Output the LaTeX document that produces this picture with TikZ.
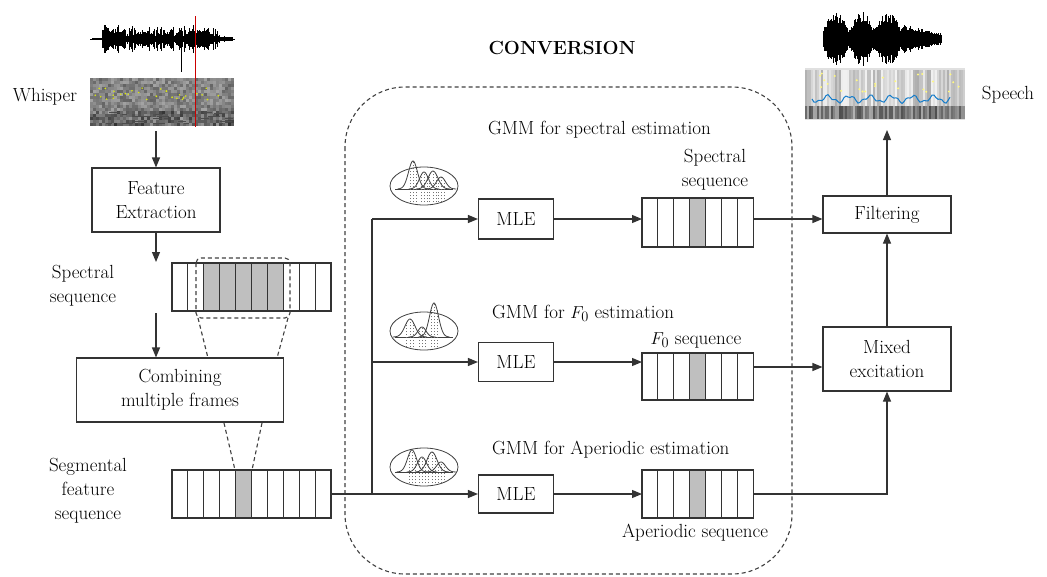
\documentclass[tikz,border=0pt]{standalone}
\usetikzlibrary{arrows.meta,calc}

\newcommand\lbl{\fontsize{19}{24}\selectfont}
\def\cw{15.9}

\tikzset{
  box/.style={draw=black!80, line width=1.1pt, fill=white, align=center, inner sep=0pt, font=\lbl},
  lbl/.style={align=center, inner sep=0pt, font=\lbl},
  arr/.style={-{Triangle[length=10pt,width=8pt]}, line width=1.1pt, draw=black!80},
  link/.style={line width=1.1pt, draw=black!80},
  guide/.style={dash pattern=on 4pt off 3pt, line width=1.1pt, draw=black!75},
  strip/.style={draw=black!80, line width=1.1pt, fill=white, inner sep=0pt, outer sep=0pt},
  cellline/.style={line width=1.1pt, draw=black!80},
  icon/.style={line width=0.8pt, draw=black!75},
  hatch/.style={draw=black!55, line width=0.4pt, dash pattern=on 1.5pt off 1.5pt},
}

% frame sequence: name, left x, top y, number of cells, height, shaded cells
\newcommand\framestrip[6]{%
  \node[strip, anchor=north west, minimum width=#4*\cw, minimum height=#5] (#1) at (#2,#3) {};
  \foreach \k in {#6} \fill[gray!50] ($(#1.north west)+(\k*\cw,0)$) rectangle +(\cw,#5);
  \pgfmathtruncatemacro\nlast{#4-1}
  \foreach \k in {1,...,\nlast} \draw[cellline] ($(#1.north west)+(\k*\cw,0)$) -- +(0,#5);
  \draw[cellline] (#1.north west) rectangle (#1.south east);
}

% mixture-of-Gaussians emblem: name, x, y, baseline, list of mean/height/spread
\newcommand\gmmicon[5]{%
  \begin{scope}[shift={(#2,#3)}]
    \coordinate (#1) at (0,0);
    \draw[icon, fill=white] (0,0) ellipse [x radius=34, y radius=19];
    \draw[icon] (-29,#4) -- (29,#4);
    \foreach \m/\h/\s in {#5}{
      \foreach \d in {-1,0,1}{
        \draw[hatch] ({\m+\d*0.7*\s},16) -- ({\m+\d*0.7*\s},{#4-\h*exp(-(0.49*\d*\d)/2)});
      }
      \draw[icon, samples=40, domain={\m-3.4*\s}:{\m+3.4*\s}]
        plot (\x, {#4 - \h*exp(-((\x-\m)^2)/(2*\s*\s))});
    }
  \end{scope}
}

\begin{document}
\begin{tikzpicture}[x=1pt, y=-1pt]
\useasboundingbox (0,0) rectangle (1047,576);

% ---------- whisper input: waveform and spectrogram ----------
\pgfmathsetseed{3}
\draw[black, line width=0.6pt] (90,39) -- (235,39);
\foreach \i in {0,...,140}{
  \pgfmathsetmacro\env{(\i<10)*1.5 + (\i>=10)*(\i<128)*(5+10*rnd) + (\i>=128)*3}
  \pgfmathsetmacro\amp{\env*(0.5+0.5*rnd)}
  \fill[black] (92+\i,{39-\amp}) rectangle (93.3+\i,{39+\amp});
}
\draw[black, line width=1pt] (181,28) -- (181,72);
\foreach \c in {0,...,47}{
  \foreach \r in {0,...,15}{
    \pgfmathtruncatemacro\g{36+26*rnd+(\r>10)*22*rnd}
    \fill[black!\g] (90+3*\c,78+3*\r) rectangle +(3.05,3.05);
  }
}
\foreach \i in {1,...,22}{
  \pgfmathsetmacro\xx{95+130*rnd}
  \pgfmathsetmacro\yy{112+12*rnd}
  \pgfmathsetmacro\ll{4+8*rnd}
  \draw[black!70, line width=1pt] (\xx,\yy) -- ++(\ll,0);
}
\foreach \i in {1,...,30}{
  \pgfmathsetmacro\xx{95+135*rnd}
  \pgfmathsetmacro\yy{88+12*rnd}
  \fill[yellow!85!green] (\xx,\yy) circle (0.9);
}
\draw[red!80!black, line width=1pt] (195,16) -- (195,127);
\node[lbl] (whisper) at (45,97) {Whisper};

% ---------- speech output: waveform and spectrogram ----------
\fill[black!12] (805,68) rectangle (965,120);
\foreach \c in {0,...,79}{
  \pgfmathtruncatemacro\g{5+28*rnd}
  \fill[black!\g] (805+2*\c,70) rectangle +(2.05,36);
  \pgfmathtruncatemacro\h{30+40*rnd}
  \fill[black!\h] (805+2*\c,106) rectangle +(2.05,13);
}
\foreach \i in {1,...,25}{
  \pgfmathsetmacro\xx{810+150*rnd}
  \pgfmathsetmacro\yy{72+20*rnd}
  \fill[yellow!50!white] (\xx,\yy) circle (1.1);
}
\draw[cyan!60!blue, line width=1pt] plot[domain=0:138, samples=70] ({812+\x},{99+3*sin(\x*17)+1.5*sin(\x*41)});
\foreach \i in {0,...,118}{
  \pgfmathsetmacro\env{(\i<80)*(9+17*abs(sin(\i*6.8+10))) + (\i>=80)*(11*(1-(\i-80)/45)+3)}
  \pgfmathsetmacro\amp{\env*(0.6+0.4*rnd)}
  \fill[black] (823+\i,{38-\amp}) rectangle (824.1+\i,{40+\amp});
}
\node[lbl] (speech) at (1008,95) {Speech};

% ---------- feature extraction side ----------
\node[box, minimum width=128, minimum height=64] (fe) at (156,200) {Feature\\Extraction};
\node[box, minimum width=207, minimum height=64] (comb) at (180,390) {Combining\\multiple frames};
\framestrip{specL}{172}{263}{10}{48}{2,...,6}
\framestrip{seg}{172}{470}{10}{48}{4}
\node[lbl] (specLlbl) at (83,286) {Spectral\\sequence};
\node[lbl] (seglbl) at (88,491) {Segmental\\feature\\sequence};

\coordinate (wbot) at (156,131);
\coordinate (sa) at (156,262);
\coordinate (sb) at (156,313);
\draw[arr] (wbot) -- (fe.north);
\draw[arr] (fe.south) -- (sa);
\draw[arr] (sb) -- (sb |- comb.north);

% window of combined frames
\draw[guide, rounded corners=5] (196,258) rectangle (290,318);
\draw[guide] (198,318) -- (208,358);
\draw[guide] (288,318) -- (277,358);
\draw[guide] (224,423) -- (235,470);
\draw[guide] (262,423) -- (252,470);

% ---------- conversion block ----------
\draw[guide, rounded corners=60] (345,87) rectangle (792,574);
\node[lbl, font=\lbl\bfseries] (conv) at (562,48) {CONVERSION};

\node[lbl, anchor=west] (g1) at (488,130) {GMM for spectral estimation};
\node[lbl, anchor=west] (g2) at (492,313) {GMM for $F_0$ estimation};
\node[lbl, anchor=west] (g3) at (492,450) {GMM for Aperiodic estimation};

\gmmicon{gmm1}{424}{186}{3}{-11/28/4.5, 0/17/4.5, 9/18/5, 17/12/4.5}
\gmmicon{gmm2}{424}{331}{6}{-14/18/5, -2/10/4, 10/34/4.5}
\gmmicon{gmm3}{424}{467}{5}{-12/22/4.5, -2/15/4.5, 8/20/5, 17/10/4.5}

\node[box, minimum width=75, minimum height=40] (mle1) at (516,219) {MLE};
\node[box, minimum width=75, minimum height=39] (mle2) at (516,362) {MLE};
\node[box, minimum width=75, minimum height=38] (mle3) at (516,494) {MLE};

\framestrip{s1}{642}{198}{7}{49}{3}
\framestrip{s2}{642}{353}{7}{47}{3}
\framestrip{s3}{642}{470}{7}{48}{3}
\node[lbl] (s1lbl) at (715,170) {Spectral\\sequence};
\node[lbl] (s2lbl) at (696,340) {$F_0$ sequence};
\node[lbl] (s3lbl) at (695,533) {Aperiodic sequence};

\coordinate (j) at (372,494);
\draw[link] (seg.east |- j) -- (j);
\draw[link] (j) -- (j |- mle1.west);
\draw[arr] (j) -- (mle3.west);
\draw[arr] (j |- mle2.west) -- (mle2.west);
\draw[arr] (j |- mle1.west) -- (mle1.west);

\draw[arr] (mle1.east) -- (mle1.east -| s1.west);
\draw[arr] (mle2.east) -- (mle2.east -| s2.west);
\draw[arr] (mle3.east) -- (mle3.east -| s3.west);

% ---------- synthesis ----------
\node[box, minimum width=128, minimum height=37] (filt) at (887,214.5) {Filtering};
\node[box, minimum width=128, minimum height=64] (mix) at (887,359) {Mixed\\excitation};
\coordinate (m2) at ([yshift=-8pt]mix.west);
\coordinate (m1) at ([yshift=-4.5pt]filt.west);
\coordinate (sp) at (887,130);

\draw[arr] (s1.east |- m1) -- (m1);
\draw[arr] (s2.east |- m2) -- (m2);
\draw[arr] (s3.east) -| (mix.south);
\draw[arr] (mix.north) -- (filt.south);
\draw[arr] (filt.north) -- (sp);
\end{tikzpicture}
\end{document}
